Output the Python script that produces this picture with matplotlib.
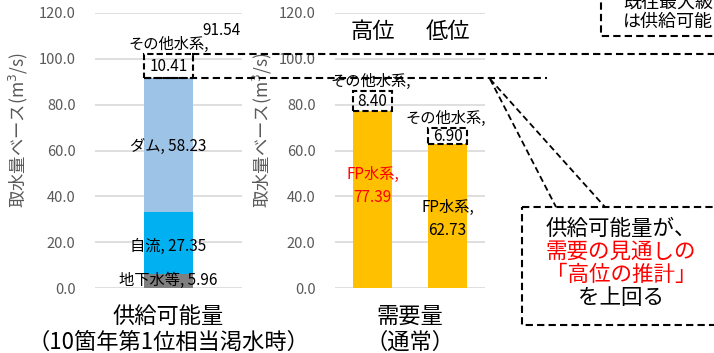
import matplotlib
matplotlib.use("Agg")
import matplotlib.pyplot as plt
from matplotlib.patches import Rectangle
from matplotlib.lines import Line2D
from matplotlib.transforms import blended_transform_factory

plt.rcParams['font.family'] = ['Noto Sans CJK JP', 'DejaVu Sans']

# supply side (stacked)
supply_cat = "供給可能量\n（10箇年第1位相当渇水時）"
ground = 5.96
jiryu = 27.35
dam = 58.23
supply_other = 10.41
supply_total = 91.54

# demand side
demand_cats = ["高位", "低位"]
fp = [77.39, 62.73]
demand_other = [8.40, 6.90]
demand_cat = "需要量\n（通常）"

yticks = [0, 20, 40, 60, 80, 100, 120]

W, H = 714, 353
fig = plt.figure(figsize=(W / 100, H / 100), dpi=100)

def px_axes(x0, x1, ytop, ybot):
    return fig.add_axes([x0 / W, (H - ybot) / H, (x1 - x0) / W, (ybot - ytop) / H])

grey = "#595959"
grid = "#D9D9D9"

def style(ax):
    ax.set_ylim(0, 120)
    ax.set_yticks(yticks)
    ax.set_yticklabels([f"{v:.1f}" for v in yticks], color=grey, fontsize=10.5)
    ax.tick_params(axis='y', length=0, pad=14)
    ax.tick_params(axis='x', length=0)
    for s in ax.spines.values():
        s.set_visible(False)
    ax.grid(axis='y', color=grid, lw=1.2)
    ax.set_axisbelow(True)
    ax.set_facecolor('none')
    ax.set_ylabel("取水量ベース(m$^3$/s)", color=grey, fontsize=12.5)

fs = 11
cat_fs = 16

# left panel
ax1 = px_axes(95, 242, 13, 288)
style(ax1)
ax1.set_xlim(-0.5, 0.5)
bw = 0.327
ax1.bar(0, ground, bw, color="#7F7F7F")
ax1.bar(0, jiryu, bw, bottom=ground, color="#00B0F0")
ax1.bar(0, dam, bw, bottom=ground + jiryu, color="#9DC3E6")
ax1.bar(0, supply_other, bw, bottom=supply_total, fill=False,
        edgecolor="black", linestyle=(0, (3, 1.5)), lw=1.5)
ax1.set_xticks([0])
ax1.set_xticklabels([supply_cat], fontsize=cat_fs, linespacing=1.15)
ax1.tick_params(axis='x', pad=12)
ax1.yaxis.set_label_coords(-0.44, 0.575)

ax1.text(0, ground / 2 + 0.5, f"地下水等, {ground:.2f}", ha='center', va='center', fontsize=fs)
ax1.text(0, ground + jiryu / 2 - 1.6, f"自流, {jiryu:.2f}", ha='center', va='center', fontsize=fs)
ax1.text(0, ground + jiryu + dam / 2 - 0.8, f"ダム, {dam:.2f}", ha='center', va='center', fontsize=fs)
ax1.text(0, supply_total + supply_other / 2, f"{supply_other:.2f}", ha='center', va='center', fontsize=fs)
ax1.text(0, supply_total + supply_other + 4.5, "その他水系,", ha='center', va='center', fontsize=fs)
ax1.text(0.36, 112.5, f"{supply_total:.2f}", ha='center', va='center', fontsize=fs)

# right panel
ax2 = px_axes(335, 485, 13, 288)
style(ax2)
ax2.set_xlim(-0.5, 1.5)
bw2 = 0.507
x = [0, 1]
ax2.bar(x, fp, bw2, color="#FFC000")
ax2.bar(x, demand_other, bw2, bottom=fp, fill=False,
        edgecolor="black", linestyle=(0, (3, 1.5)), lw=1.5)
ax2.set_xticks([0.5])
ax2.set_xticklabels([demand_cat], fontsize=cat_fs, linespacing=1.15)
ax2.tick_params(axis='x', pad=12)
ax2.yaxis.set_label_coords(-0.41, 0.575)
for i, c in enumerate(demand_cats):
    ax2.text(i, 112, c, ha='center', va='center', fontsize=cat_fs)
for i in x:
    ax2.text(i, fp[i] + demand_other[i] / 2, f"{demand_other[i]:.2f}", ha='center', va='center', fontsize=fs)
    ax2.text(i - 0.03, fp[i] + demand_other[i] + 4.5, "その他水系,", ha='center', va='center', fontsize=fs)
ax2.text(0, 44.5, f"FP水系,\n{fp[0]:.2f}", ha='center', va='center', fontsize=fs, color="red", linespacing=1.45)
ax2.text(1.0, 30, f"FP水系,\n{fp[1]:.2f}", ha='center', va='center', fontsize=fs, linespacing=1.45)

# dashed reference lines at the supply levels
dash = (0, (3.5, 2))
tr = blended_transform_factory(fig.transFigure, ax1.transData)
fig.lines.append(Line2D([144 / W, 547 / W], [supply_total, supply_total], transform=tr,
                        color="black", lw=1.5, linestyle=dash))
fig.lines.append(Line2D([192 / W, 1.0], [supply_total + supply_other] * 2, transform=tr,
                        color="black", lw=1.5, linestyle=dash))

# overlay for callouts (pixel coords)
ov = fig.add_axes([0, 0, 1, 1], zorder=5)
ov.set_xlim(0, W)
ov.set_ylim(H, 0)
ov.axis('off')
ov.patch.set_alpha(0)
ov.plot([490, 556], [79, 207], color="black", lw=1.3, linestyle=dash)
ov.plot([490, 605], [79, 207], color="black", lw=1.3, linestyle=dash)
ov.add_patch(Rectangle((522, 207), 210, 118, facecolor="white", edgecolor="black",
                       lw=1.5, linestyle=dash))
ov.add_patch(Rectangle((601, -10), 130, 46, facecolor="white", edgecolor="black",
                       lw=1.5, linestyle=dash))
cfs = 15.5
ov.text(621, 229, "供給可能量が、", ha='center', va='center', fontsize=cfs)
ov.text(621, 252, "需要の見通しの", ha='center', va='center', fontsize=cfs, color="red")
ov.text(621, 275, "「高位の推計」", ha='center', va='center', fontsize=cfs, color="red")
ov.text(621, 298, "を上回る", ha='center', va='center', fontsize=cfs)
ov.text(623, 3, "既往最大級", ha='left', va='center', fontsize=13)
ov.text(623, 22, "は供給可能", ha='left', va='center', fontsize=13)

fig.savefig("out.png", dpi=100)
